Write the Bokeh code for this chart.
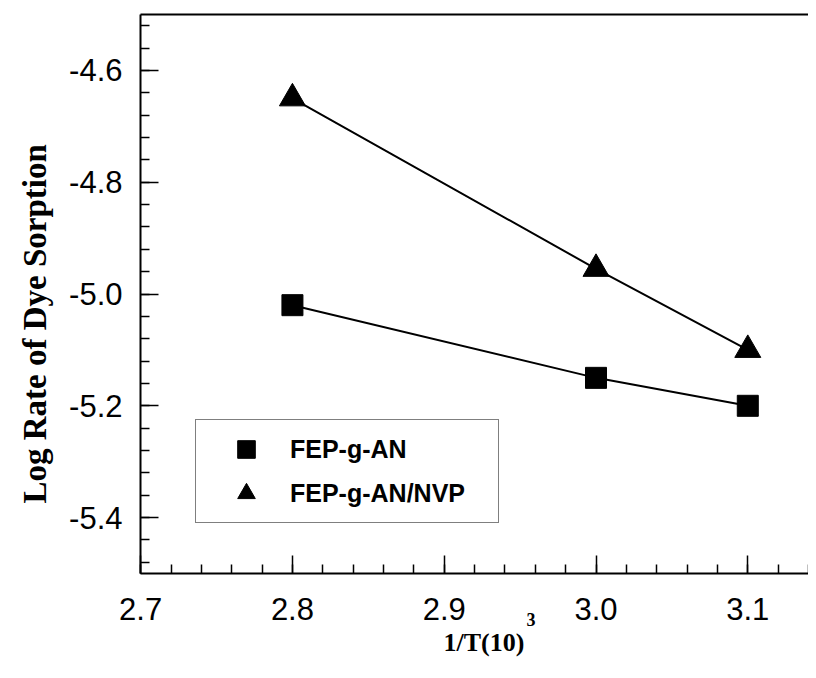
import math
from bokeh.plotting import figure
from bokeh.models import (Range1d, SingleIntervalTicker, NumeralTickFormatter, LinearAxis,
                          FixedTicker, Legend, LegendItem, Label, Title)
from bokeh.embed import file_html
from bokeh.resources import INLINE

# ---- data ----
inv_T = [2.8, 3.0, 3.1]
fep_g_an = [-5.02, -5.15, -5.20]
fep_g_an_nvp = [-4.65, -4.955, -5.10]
series_names = ["FEP-g-AN", "FEP-g-AN/NVP"]
x_title = "1/T(10)"
x_title_sup = "3"
y_title = "Log Rate of Dye Sorption"

X_START, X_END = 2.6999, 3.14
Y_START, Y_END = -5.5, -4.5

W, H = 808, 676
p = figure(width=W, height=H, output_backend="svg", toolbar_location=None,
           x_range=Range1d(X_START, X_END), y_range=Range1d(Y_START, Y_END),
           min_border_left=140, min_border_right=0, min_border_top=14, min_border_bottom=103)
p.outline_line_color = None
p.grid.visible = False
p.background_fill_color = "white"
p.border_fill_color = "white"

tick_font = "Liberation Sans"
for ax, interval in ((p.xaxis[0], 0.1), (p.yaxis[0], 0.2)):
    ax.ticker = SingleIntervalTicker(interval=interval, num_minor_ticks=5)
    ax.formatter = NumeralTickFormatter(format="0.0")
    ax.axis_line_width = 2
    ax.axis_line_color = "black"
    ax.major_tick_in = 18
    ax.major_tick_out = 0
    ax.minor_tick_in = 9
    ax.minor_tick_out = 0
    ax.major_tick_line_width = 1.5
    ax.minor_tick_line_width = 1.5
    ax.major_tick_line_color = "black"
    ax.minor_tick_line_color = "black"
    ax.major_label_text_font = tick_font
    ax.major_label_text_font_size = "31px"
    ax.major_label_text_color = "black"
p.xaxis[0].major_label_standoff = 24
p.yaxis[0].major_label_standoff = 18

top = LinearAxis(ticker=FixedTicker(ticks=[]), axis_line_width=2, axis_line_color="black",
                 major_tick_in=0, major_tick_out=0, minor_tick_in=0, minor_tick_out=0,
                 major_label_standoff=0, major_label_text_font_size="0px")
p.add_layout(top, "above")

# lines
p.line(inv_T, fep_g_an, line_color="black", line_width=2)
p.line(inv_T, fep_g_an_nvp, line_color="black", line_width=2)
# markers
r1 = p.scatter(inv_T, fep_g_an, marker="square", size=21, fill_color="black", line_color="black")
r2 = p.scatter(inv_T, fep_g_an_nvp, marker="triangle", size=26, fill_color="black", line_color="black")

legend = Legend(items=[LegendItem(label=series_names[0], renderers=[r1]),
                       LegendItem(label=series_names[1], renderers=[r2])],
                location=(55, 50))
legend.border_line_color = "black"
legend.border_line_width = 1.5
legend.padding = 7
legend.margin = 0
legend.spacing = 0
legend.glyph_width = 86
legend.glyph_height = 44
legend.label_height = 44
legend.label_width = 201
legend.label_standoff = 1
legend.label_text_font = tick_font
legend.label_text_font_style = "bold"
legend.label_text_font_size = "25px"
legend.label_text_color = "black"
legend.background_fill_alpha = 1.0
p.add_layout(legend, "center")

# y title
p.add_layout(Title(text=y_title, align="left", offset=70, standoff=24, vertical_align="top",
                   text_font="Liberation Serif", text_font_style="bold", text_font_size="33px",
                   text_color="black"), "left")

# x title (in the panel below the x axis)
p.add_layout(Label(x=303, y=9, x_units="screen", y_units="screen", text=x_title,
                   text_font="Liberation Serif", text_font_style="bold", text_font_size="26px",
                   text_color="black", text_baseline="alphabetic"), "below")
p.add_layout(Label(x=386, y=45.5, x_units="screen", y_units="screen", text=x_title_sup,
                   text_font="Liberation Serif", text_font_style="bold", text_font_size="18px",
                   text_color="black", text_baseline="alphabetic"), "below")

open("out.html", "w").write(file_html(p, INLINE))
